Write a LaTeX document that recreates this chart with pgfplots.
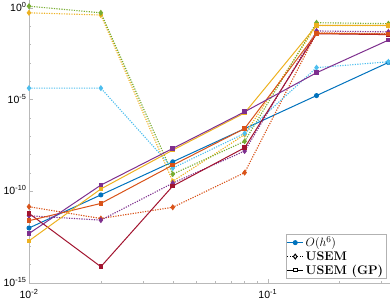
\documentclass[border=0pt]{standalone}
\usepackage{fontspec}
\usepackage{pgfplots}
\pgfplotsset{compat=1.18}
\newfontfamily\tickfont{Liberation Sans}
\definecolor{mblue}{RGB}{0,114,189}
\definecolor{morange}{RGB}{217,83,25}
\definecolor{myellow}{RGB}{237,177,32}
\definecolor{mpurple}{RGB}{126,47,142}
\definecolor{mgreen}{RGB}{119,172,48}
\definecolor{mlblue}{RGB}{77,190,238}
\definecolor{mdred}{RGB}{162,20,47}
\newcommand{\tl}[1]{{\tickfont\fontsize{10.5}{12}\selectfont 10\textsuperscript{#1}}}
\pgfplotsset{
  usem/.style={line width=1.1pt, dash pattern=on 1.2pt off 1.3pt, color=#1, mark=diamond*, mark size=2.4pt, mark options={solid, line width=0.8pt, fill=#1}},
  gp/.style={line width=1pt, solid, color=#1, mark=square*, mark size=1.8pt, mark options={solid, fill=#1}},
}
\begin{document}
\begin{tikzpicture}
\begin{axis}[
  scale only axis, width=361pt, height=283pt,
  xmode=log, ymode=log,
  xmin=0.01, xmax=0.325, ymin=1e-15, ymax=2.75,
  axis x line*=bottom, axis y line*=left,
  axis line style={gray!55, line width=0.6pt},
  tick style={gray!55, line width=0.5pt},
  tick align=inside,
  major tick length=4pt, minor tick length=2pt,
  xtick={0.01,0.1}, xticklabels={\tl{-2},\tl{-1}},
  minor xtick={0.02,0.03,0.04,0.05,0.06,0.07,0.08,0.09,0.2,0.3},
  ytick={1e-15,1e-10,1e-5,1}, yticklabels={\tl{-15},\tl{-10},\tl{-5},\tl{0}},
  minor ytick={1e-14,1e-13,1e-12,1e-11,1e-9,1e-8,1e-7,1e-6,1e-4,1e-3,1e-2,1e-1},
  xticklabel style={yshift=-2.5pt},
  yticklabel style={xshift=1pt, yshift=1pt},
  clip=false,
  legend cell align=left,
  legend style={at={(0.99,0.015)}, anchor=south east, draw=gray!60, fill=white,
    font=\fontsize{12.5}{14}\selectfont\bfseries, inner sep=1pt, row sep=-1pt},
  legend image code/.code={\draw[mark repeat=2,mark phase=2,#1] plot coordinates {(0cm,0cm) (0.28cm,0cm) (0.56cm,0cm)};},
]
% O(h^6)
\addplot[line width=1pt, color=mblue, mark=*, mark size=2pt, mark options={fill=mblue}] coordinates {
 (0.01,1e-12) (0.02,6.4e-11) (0.04,4.096e-9) (0.08,2.62144e-7) (0.16,1.6777e-5) (0.32,1.0737e-3)};
\addlegendentry{$O(h^6)$}
\addlegendimage{line width=1pt, black, dash pattern=on 1.2pt off 1.3pt, mark=diamond*, mark size=2.4pt, mark options={solid, fill=white}}
\addlegendentry{USEM}
\addlegendimage{line width=1pt, black, solid, mark=square*, mark size=1.8pt, mark options={solid, fill=white}}
\addlegendentry{USEM (GP)}
% USEM
\addplot[usem=morange, forget plot] coordinates {
 (0.01,1.45e-11) (0.02,3.3e-12) (0.04,1.35e-11) (0.08,1.05e-9) (0.16,4.47e-2) (0.32,3.98e-2)};
\addplot[usem=myellow, forget plot] coordinates {
 (0.01,0.55) (0.02,0.417) (0.04,3.55e-10) (0.08,1.25e-7) (0.16,0.112) (0.32,0.112)};
\addplot[usem=mpurple, forget plot] coordinates {
 (0.01,4.68e-12) (0.02,2.69e-12) (0.04,2.82e-10) (0.08,1.58e-8) (0.16,5.62e-2) (0.32,5.01e-2)};
\addplot[usem=mgreen, forget plot] coordinates {
 (0.01,1.26) (0.02,0.55) (0.04,8.7e-10) (0.08,5.37e-8) (0.16,0.158) (0.32,0.141)};
\addplot[usem=mlblue, forget plot] coordinates {
 (0.01,4.27e-5) (0.02,4.27e-5) (0.04,1.86e-9) (0.08,1.45e-7) (0.16,5.62e-4) (0.32,1.17e-3)};
% USEM (GP)
\addplot[gp=mdred, forget plot] coordinates {
 (0.01,6.3e-12) (0.02,7.76e-15) (0.04,1.95e-10) (0.08,2.4e-8) (0.16,3.98e-2) (0.32,3.55e-2)};
\addplot[gp=morange, forget plot] coordinates {
 (0.01,2.51e-12) (0.02,2.19e-11) (0.04,2.69e-9) (0.08,2.69e-7) (0.16,4.17e-2) (0.32,3.8e-2)};
\addplot[gp=myellow, forget plot] coordinates {
 (0.01,2e-13) (0.02,1.35e-10) (0.04,1.78e-8) (0.08,1.9e-6) (0.16,0.112) (0.32,0.112)};
\addplot[gp=mpurple, forget plot] coordinates {
 (0.01,5.01e-13) (0.02,2.19e-10) (0.04,2.19e-8) (0.08,2.19e-6) (0.16,2.95e-4) (0.32,1.78e-2)};
\end{axis}
\pgfresetboundingbox
\path (-29pt,-20pt) rectangle (361pt,283pt);
\end{tikzpicture}
\end{document}
